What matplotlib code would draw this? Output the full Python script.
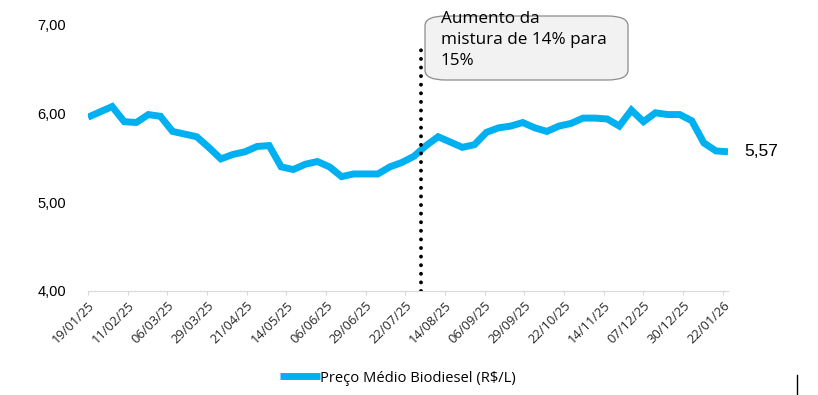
import matplotlib
matplotlib.use("Agg")
from matplotlib import pyplot as plt
from matplotlib.patches import FancyBboxPatch
from matplotlib.lines import Line2D
import pandas as pd

# weekly biodiesel average price (R$/L)
dates = pd.date_range("2025-01-19", periods=54, freq="7D")
prices = [5.96, 6.02, 6.08, 5.91, 5.90, 5.99, 5.97, 5.80, 5.77, 5.74,
          5.62, 5.49, 5.54, 5.57, 5.63, 5.64, 5.40, 5.37, 5.43, 5.46,
          5.40, 5.29, 5.32, 5.32, 5.32, 5.40, 5.45, 5.52, 5.64, 5.74,
          5.68, 5.62, 5.65, 5.79, 5.84, 5.86, 5.90, 5.84, 5.80, 5.86,
          5.89, 5.95, 5.95, 5.94, 5.86, 6.04, 5.91, 6.01, 5.99, 5.99,
          5.92, 5.67, 5.58, 5.57]
series_label = "Preço Médio Biodiesel (R$/L)"
tick_dates = pd.date_range("2025-01-19", "2026-01-25", freq="23D")
yticks = [4.0, 5.0, 6.0, 7.0]
event_date = pd.Timestamp("2025-07-31")
event_text = "Aumento da\nmistura de 14% para\n15%"
last_label = "5,57"

blue = "#00B0F0"
fig = plt.figure(figsize=(8.18, 3.95), dpi=100)
ax = fig.add_axes([88 / 818, 1 - 291 / 395, 640 / 818, 266 / 395])

ax.plot(dates, prices, color=blue, lw=5, solid_joinstyle="miter",
        solid_capstyle="butt", label=series_label, zorder=3)

# event marker
ax.plot([event_date, event_date], [4.0, 6.8], color="black", lw=2.8,
        linestyle=(0, (0.01, 2.2)), dash_capstyle="round", zorder=4)

ax.set_xlim(dates[0], dates[-1])
ax.set_ylim(4, 7)
ax.set_yticks(yticks)
ax.set_yticklabels([f"{v:.2f}".replace(".", ",") for v in yticks],
                   fontfamily="Liberation Sans", fontsize=10.5)
ax.tick_params(axis="y", length=0, pad=16)
ax.set_xticks(tick_dates)
ax.set_xticklabels([d.strftime("%d/%m/%y") for d in tick_dates],
                   rotation=45, ha="right", rotation_mode="anchor",
                   fontfamily="Open Sans", fontsize=9.3, color="#262626")
ax.tick_params(axis="x", length=3, width=0.8, color="#d9d9d9", pad=3)

for s in ["top", "right", "left"]:
    ax.spines[s].set_visible(False)
ax.spines["bottom"].set_color("#d9d9d9")

ax.annotate(last_label, (dates[-1], prices[-1]), xytext=(12, 0),
            textcoords="offset points", va="center", ha="left",
            fontfamily="Liberation Sans", fontsize=12.5, annotation_clip=False)

# annotation box
box = FancyBboxPatch((425 / 818, 1 - 80 / 395), 203 / 818, 64 / 395,
                     boxstyle="round,pad=0,rounding_size=0.025",
                     transform=fig.transFigure, facecolor="#f2f2f2",
                     edgecolor="#8c8c8c", lw=0.9)
fig.add_artist(box)
fig.text(441 / 818, 1 - 11 / 395, event_text, ha="left", va="top",
         fontfamily="Open Sans", fontsize=12.3, linespacing=1.4)

leg = fig.legend(loc="center", bbox_to_anchor=(398 / 818, 1 - 378 / 395),
                 frameon=False, handlelength=2.7, handletextpad=0.05,
                 prop={"family": "Open Sans", "size": 10.6})

# stray cursor mark
fig.add_artist(Line2D([797 / 818, 797 / 818], [0, 20 / 395], color="black", lw=1))

fig.savefig("out.png", dpi=100)
